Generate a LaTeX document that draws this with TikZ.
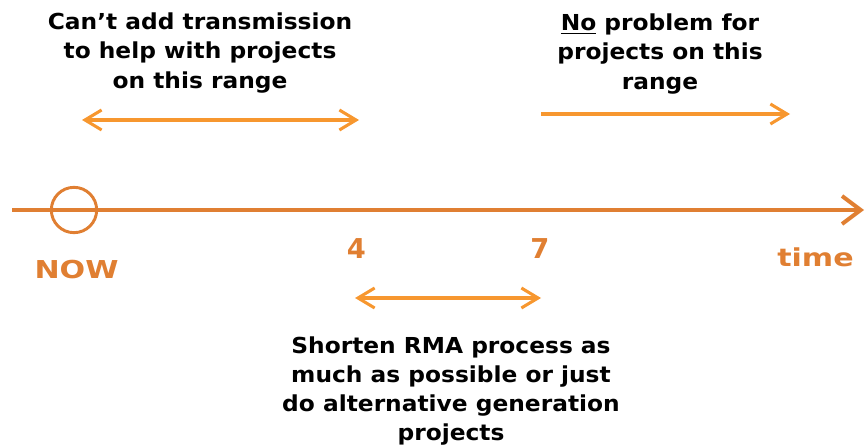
\documentclass[tikz,border=0pt]{standalone}
\usepackage{fontspec}
\setmainfont{DejaVu Sans}
\newfontfamily\wideface[FakeStretch=1.06]{DejaVu Sans}
\newfontfamily\widerface[FakeStretch=1.22]{DejaVu Sans}
\usetikzlibrary{arrows.meta}
\definecolor{axisorange}{HTML}{E07F32}
\definecolor{spanorange}{HTML}{F7972F}
\begin{document}
\begin{tikzpicture}[x=0.75pt, y=-0.75pt,
                    rangebarb/.tip={Straight Barb[length=12.5pt, width=15pt, line width=2.3pt]},
                    axis/.style={draw=axisorange, line width=3pt, -{Straight Barb[length=14pt, width=21pt, line width=3pt]}},
                    span/.style={draw=spanorange, line width=2.3pt, {rangebarb}-{rangebarb}},
                    spanto/.style={draw=spanorange, line width=2.3pt, -{rangebarb}},
                    note/.style={align=center, font=\wideface\bfseries\fontsize{16.5}{21.8}\selectfont},
                    tick/.style={text=axisorange, font=\widerface\bfseries\fontsize{18.5}{20}\selectfont},
                    year/.style={text=axisorange, font=\bfseries\fontsize{20.5}{22}\selectfont}
                ]
                \useasboundingbox (0,0) rectangle (867,445);

                % Time axis
                \coordinate (start) at (12,210);
                \coordinate (end) at (864,210);
                \draw[axis] (start) -- (end);
                \node[circle, draw=axisorange, line width=2.2pt, minimum size=34pt] (now) at (74,210) {};

                % Labels on the axis
                \node[tick] (nowlabel) at (76.5,270) {NOW};
                \node[year] (four) at (356.5,248.5) {4};
                \node[year] (seven) at (540,248.5) {7};
                \node[tick] (time) at (815.5,257) {time};

                % Ranges
                \coordinate (a1) at (82,120);
                \coordinate (a2) at (359,120);
                \coordinate (b1) at (541,114);
                \coordinate (b2) at (790,114);
                \coordinate (c1) at (355,298);
                \coordinate (c2) at (541,298);
                \draw[span] (a1) -- (a2);
                \draw[spanto] (b1) -- (b2);
                \draw[span] (c1) -- (c2);

                % Notes
                \node[note] (cannot) at (200,53) {Can’t add transmission\\to help with projects\\on this range};
                \node[note] (noproblem) at (660,54) {\underline{No} problem for\\projects on this\\range};
                \node[note] (shorten) at (451,391) {Shorten RMA process as\\much as possible or just\\do alternative generation\\projects};
            \end{tikzpicture}
\end{document}
